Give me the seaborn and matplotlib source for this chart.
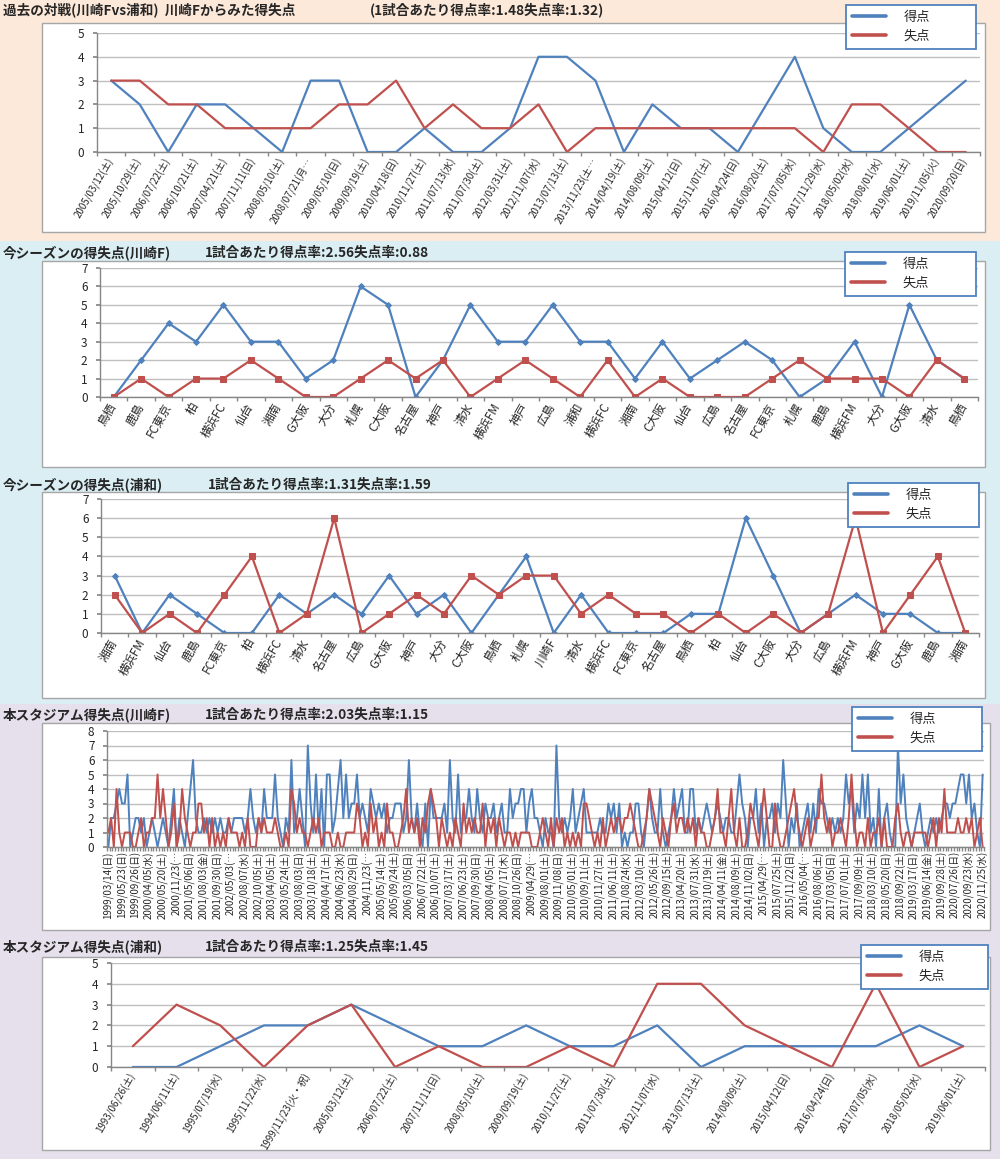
import numpy as np
import pandas as pd
import matplotlib
matplotlib.use("Agg")
import matplotlib.pyplot as plt
import seaborn as sns
from matplotlib.lines import Line2D
from matplotlib.patches import Rectangle

sns.set_theme(style="white")
plt.rcParams["font.family"] = ["Noto Sans CJK JP", "DejaVu Sans"]

BLUE = "#4F81BD"
RED = "#C0504D"
GRID = "#BFBFBF"
AXIS = "#868686"

# --- 過去の対戦 (川崎F vs 浦和)
h2h_dates = ["2005/03/12(土)", "2005/10/29(土)", "2006/07/22(土)", "2006/10/21(土)",
             "2007/04/21(土)", "2007/11/11(日)", "2008/05/10(土)", "2008/07/21(月…",
             "2009/05/10(日)", "2009/09/19(土)", "2010/04/18(日)", "2010/11/27(土)",
             "2011/07/13(水)", "2011/07/30(土)", "2012/03/31(土)", "2012/11/07(水)",
             "2013/07/13(土)", "2013/11/23(土…", "2014/04/19(土)", "2014/08/09(土)",
             "2015/04/12(日)", "2015/11/07(土)", "2016/04/24(日)", "2016/08/20(土)",
             "2017/07/05(水)", "2017/11/29(水)", "2018/05/02(水)", "2018/08/01(水)",
             "2019/06/01(土)", "2019/11/05(火)", "2020/09/20(日)"]
h2h_for = [3, 2, 0, 2, 2, 1, 0, 3, 3, 0, 0, 1, 0, 0, 1, 4, 4, 3, 0, 2, 1, 1, 0, 2, 4, 1, 0, 0, 1, 2, 3]
h2h_against = [3, 3, 2, 2, 1, 1, 1, 1, 2, 2, 3, 1, 2, 1, 1, 2, 0, 1, 1, 1, 1, 1, 1, 1, 1, 0, 2, 2, 1, 0, 0]

# --- 今シーズン (川崎F)
kaw_opponents = ["鳥栖", "鹿島", "FC東京", "柏", "横浜FC", "仙台", "湘南", "G大阪", "大分", "札幌",
                 "C大阪", "名古屋", "神戸", "清水", "横浜FM", "神戸", "広島", "浦和", "横浜FC", "湘南",
                 "C大阪", "仙台", "広島", "名古屋", "FC東京", "札幌", "鹿島", "横浜FM", "大分", "G大阪",
                 "清水", "鳥栖"]
kaw_for = [0, 2, 4, 3, 5, 3, 3, 1, 2, 6, 5, 0, 2, 5, 3, 3, 5, 3, 3, 1, 3, 1, 2, 3, 2, 0, 1, 3, 0, 5, 2, 1]
kaw_against = [0, 1, 0, 1, 1, 2, 1, 0, 0, 1, 2, 1, 2, 0, 1, 2, 1, 0, 2, 0, 1, 0, 0, 0, 1, 2, 1, 1, 1, 0, 2, 1]

# --- 今シーズン (浦和)
ura_opponents = ["湘南", "横浜FM", "仙台", "鹿島", "FC東京", "柏", "横浜FC", "清水", "名古屋", "広島",
                 "G大阪", "神戸", "大分", "C大阪", "鳥栖", "札幌", "川崎F", "清水", "横浜FC", "FC東京",
                 "名古屋", "鳥栖", "柏", "仙台", "C大阪", "大分", "広島", "横浜FM", "神戸", "G大阪",
                 "鹿島", "湘南"]
ura_for = [3, 0, 2, 1, 0, 0, 2, 1, 2, 1, 3, 1, 2, 0, 2, 4, 0, 2, 0, 0, 0, 1, 1, 6, 3, 0, 1, 2, 1, 1, 0, 0]
ura_against = [2, 0, 1, 0, 2, 4, 0, 1, 6, 0, 1, 2, 1, 3, 2, 3, 3, 1, 2, 1, 1, 0, 1, 0, 1, 0, 1, 6, 0, 2, 4, 0]

# --- 本スタジアム (川崎F) : every 5th match labelled
stadium_dates = ["1999/03/14(日)", "1999/05/23(日)", "1999/09/26(日)", "2000/04/05(水)", "2000/05/20(土)",
                 "2000/11/23(…", "2001/05/06(日)", "2001/08/03(金)", "2001/09/30(日)", "2002/05/03(…",
                 "2002/08/07(水)", "2002/10/05(土)", "2003/04/05(土)", "2003/05/24(土)", "2003/08/03(日)",
                 "2003/10/18(土)", "2004/04/17(土)", "2004/06/23(水)", "2004/08/29(日)", "2004/11/23(…",
                 "2005/05/14(土)", "2005/09/24(土)", "2006/03/05(日)", "2006/07/22(土)", "2006/10/07(土)",
                 "2007/03/17(土)", "2007/06/23(土)", "2007/09/30(日)", "2008/04/05(土)", "2008/07/17(木)",
                 "2008/10/26(日)", "2009/04/29(…", "2009/08/01(土)", "2009/11/08(日)", "2010/05/01(土)",
                 "2010/09/11(土)", "2010/11/27(土)", "2011/06/11(土)", "2011/08/24(水)", "2012/03/10(土)",
                 "2012/05/26(土)", "2012/09/15(土)", "2013/04/20(土)", "2013/07/31(水)", "2013/10/19(土)",
                 "2014/04/11(金)", "2014/08/09(土)", "2014/11/02(日)", "2015/04/29(…", "2015/07/25(土)",
                 "2015/11/22(日)", "2016/05/04(…", "2016/08/06(土)", "2017/03/05(日)", "2017/07/01(土)",
                 "2017/09/09(土)", "2018/03/10(土)", "2018/05/20(日)", "2018/09/22(土)", "2019/03/17(日)",
                 "2019/06/14(金)", "2019/09/28(土)", "2020/07/26(日)", "2020/09/23(水)", "2020/11/25(水)"]
stadium_for = [
    0, 2, 2, 3, 4, 3, 3, 5, 0, 1, 2, 2, 1, 2, 0, 1, 2, 1, 0, 1,
    2, 1, 0, 2, 4, 0, 2, 1, 0, 2, 4, 6, 2, 1, 1, 2, 1, 2, 1, 2,
    1, 2, 1, 1, 2, 1, 2, 2, 2, 2, 1, 2, 4,
    2, 1, 2, 1, 4, 2, 2, 2, 5, 2, 1, 0, 2, 1, 6, 1, 2, 4, 2, 0,
    7, 3, 1, 5, 1, 4, 0, 5, 5, 1, 2, 4, 6, 2, 5, 2, 3, 3, 5, 2,
    3, 2, 1, 4, 3, 2, 3, 2, 3, 1, 2, 2, 3,
    3, 3, 1, 2, 6, 2, 1, 3, 1, 0, 3, 0, 4, 2, 2, 2, 2, 3, 1, 6,
    2, 1, 5, 1, 2, 2, 4, 2, 1, 4, 2, 1, 3, 2, 2, 3, 1, 2, 3, 1,
    1, 4, 2, 3, 3, 4, 4, 1, 3, 4, 2, 2, 1,
    0, 2, 1, 1, 0, 7, 2, 1, 2, 1, 2, 4, 1, 2, 3, 4, 1, 1, 1, 1,
    1, 2, 1, 1, 3, 2, 3, 1, 3, 0, 1, 0, 1, 1, 3, 3, 1, 0, 2, 4,
    2, 1, 1, 4, 1, 0, 1, 2, 4, 2, 3, 4, 1,
    1, 4, 4, 1, 2, 1, 2, 3, 2, 1, 2, 3, 2, 1, 2, 2, 1, 1, 3, 5,
    3, 2, 0, 2, 2, 4, 1, 3, 0, 2, 2, 3, 1, 3, 2, 6, 3, 0, 2, 1,
    3, 0, 1, 2, 3, 1, 3, 1, 4, 3, 3, 2, 1,
    2, 1, 2, 1, 2, 5, 3, 4, 1, 3, 2, 5, 2, 5, 1, 2, 0, 4, 0, 2,
    3, 1, 0, 0, 7, 3, 5, 2, 1, 0, 1, 2, 3, 1, 0, 1, 2, 1, 2, 1,
    2, 3, 3, 2, 3, 3, 4, 5, 5, 3, 5, 2, 3, 1, 0, 5,
]
stadium_against = [
    1, 2, 0, 4, 1, 0, 1, 1, 1, 0, 0, 1, 2, 0, 1, 1, 2, 2, 5, 2,
    4, 2, 0, 1, 3, 0, 1, 4, 2, 1, 0, 1, 1, 3, 3, 1, 2, 0, 2, 0,
    1, 0, 1, 0, 2, 1, 1, 1, 0, 1, 0, 2, 0,
    0, 0, 2, 1, 2, 1, 1, 1, 2, 1, 0, 0, 1, 0, 4, 3, 1, 2, 1, 1,
    0, 1, 2, 1, 2, 0, 1, 1, 1, 0, 0, 1, 0, 0, 1, 1, 1, 1, 3, 2,
    0, 1, 0, 3, 1, 2, 0, 1, 0, 3, 1, 1, 0,
    0, 1, 2, 4, 1, 2, 1, 2, 0, 2, 1, 3, 4, 3, 2, 0, 2, 1, 0, 1,
    0, 2, 1, 0, 3, 1, 2, 1, 2, 1, 1, 3, 0, 2, 1, 2, 0, 2, 1, 0,
    1, 1, 0, 1, 0, 1, 1, 1, 1, 0, 0, 0, 1,
    2, 1, 0, 2, 0, 2, 1, 2, 0, 1, 0, 1, 0, 1, 0, 3, 3, 2, 1, 0,
    1, 0, 2, 0, 1, 2, 1, 2, 2, 1, 2, 2, 3, 2, 1, 0, 0, 1, 2, 4,
    3, 2, 1, 0, 2, 1, 0, 2, 3, 1, 2, 2, 1,
    2, 1, 2, 0, 2, 1, 1, 0, 0, 1, 2, 4, 1, 1, 0, 2, 4, 1, 0, 2,
    0, 0, 1, 3, 2, 1, 0, 2, 4, 2, 0, 0, 3, 1, 0, 0, 1, 2, 3, 4,
    2, 1, 0, 1, 2, 0, 1, 2, 2, 5, 2, 1, 2,
    0, 1, 1, 2, 1, 0, 2, 5, 2, 0, 1, 1, 0, 2, 0, 1, 1, 2, 0, 2,
    0, 0, 0, 2, 3, 1, 0, 1, 1, 0, 1, 1, 1, 1, 1, 0, 1, 2, 0, 2,
    1, 4, 1, 1, 1, 1, 2, 1, 1, 2, 1, 2, 0, 1, 2, 0,
]

# --- 本スタジアム (浦和)
ura_home_dates = ["1993/06/26(土)", "1994/06/11(土)", "1995/07/19(水)", "1995/11/22(水)",
                  "1999/11/23(火・祝)", "2005/03/12(土)", "2006/07/22(土)", "2007/11/11(日)",
                  "2008/05/10(土)", "2009/09/19(土)", "2010/11/27(土)", "2011/07/30(土)",
                  "2012/11/07(水)", "2013/07/13(土)", "2014/08/09(土)", "2015/04/12(日)",
                  "2016/04/24(日)", "2017/07/05(水)", "2018/05/02(水)", "2019/06/01(土)"]
ura_home_for = [0, 0, 1, 2, 2, 3, 2, 1, 1, 2, 1, 1, 2, 0, 1, 1, 1, 1, 2, 1]
ura_home_against = [1, 3, 2, 0, 2, 3, 0, 1, 0, 0, 1, 0, 4, 4, 2, 1, 0, 4, 0, 1]

W, H = 1000, 1159
fig = plt.figure(figsize=(W / 100, H / 100), dpi=100)


def fx(px):
    return px / W


def fy(py):
    return 1 - py / H


def rect(x0, y0, x1, y1, **kw):
    fig.add_artist(Rectangle((fx(x0), fy(y1)), (x1 - x0) / W, (y1 - y0) / H,
                             transform=fig.transFigure, **kw))


# background bands
rect(0, 0, W, 241, facecolor="#FDE9D9", edgecolor="none", zorder=-5)
rect(0, 241, W, 704, facecolor="#DAEEF3", edgecolor="none", zorder=-5)
rect(0, 704, W, H, facecolor="#E5E0EC", edgecolor="none", zorder=-5)


def panel(box, axpx, legpx, title, stats, stats_x, title_y, labels, gf, ga, ymax,
          step=1, rot=60, lsize=7, marks=False, lw=1.6):
    rect(*box, facecolor="white", edgecolor="#A6A6A6", lw=1, zorder=-4)
    fig.text(fx(3), fy(title_y), title, fontsize=9.8, fontweight="bold", va="center")
    fig.text(fx(stats_x), fy(title_y), stats, fontsize=9.8, fontweight="bold", va="center")

    l, t, r, b = axpx
    ax = fig.add_axes([fx(l), fy(b), (r - l) / W, (b - t) / H])
    n = len(gf)
    df = pd.DataFrame({"match": np.tile(np.arange(n), 2),
                       "goals": list(gf) + list(ga),
                       "kind": ["得点"] * n + ["失点"] * n})
    kw = dict(data=df, x="match", y="goals", hue="kind", hue_order=["得点", "失点"],
              palette={"得点": BLUE, "失点": RED}, ax=ax, legend=False, lw=lw, estimator=None)
    if marks:
        sns.lineplot(style="kind", markers={"得点": "D", "失点": "s"}, dashes=False, **kw)
        for line, ms in zip(ax.lines, [3, 5]):
            line.set_markersize(ms)
            line.set_markeredgecolor(line.get_color())
    else:
        sns.lineplot(**kw)

    ax.set_xlim(-0.5, n - 0.5)
    ax.set_ylim(0, ymax)
    ax.set_yticks(range(ymax + 1))
    ax.yaxis.grid(True, color=GRID, lw=1)
    ax.set_axisbelow(True)
    ax.set_xlabel("")
    ax.set_ylabel("")
    ax.set_xticks(np.arange(0, n, step))
    if rot == 90:
        ax.set_xticklabels(labels, rotation=90, ha="center", va="top", fontsize=lsize)
    else:
        ax.set_xticklabels(labels, rotation=rot, ha="right", va="center",
                           rotation_mode="anchor", fontsize=lsize)
    ax.set_xticks(np.arange(-0.5, n, 1), minor=True)
    ax.tick_params(axis="x", which="major", bottom=True, length=0, pad=5 if rot != 90 else 3)
    ax.tick_params(axis="x", which="minor", bottom=True, length=3, color=AXIS)
    ax.tick_params(axis="y", left=True, length=3, color=AXIS, labelsize=8.5, pad=6)
    for s in ["top", "right"]:
        ax.spines[s].set_visible(False)
    for s in ["left", "bottom"]:
        ax.spines[s].set_color(AXIS)
        ax.spines[s].set_linewidth(1)

    lx0, ly0, lx1, ly1 = legpx
    handles = [Line2D([], [], color=BLUE, lw=2.6), Line2D([], [], color=RED, lw=2.6)]
    leg = ax.legend(handles, ["得点", "失点"], loc="upper left",
                    bbox_to_anchor=(fx(lx0), fy(ly1), (lx1 - lx0) / W, (ly1 - ly0) / H),
                    bbox_transform=fig.transFigure, mode="expand", borderaxespad=0,
                    fancybox=False, edgecolor=BLUE, framealpha=1, fontsize=9.5,
                    handlelength=2.6, handletextpad=1.3, borderpad=0.45, labelspacing=0.45)
    leg.get_frame().set_linewidth(1.3)
    return ax


panel((42, 23, 985, 232), (97, 33, 980, 152), (846, 5, 976, 50),
      "過去の対戦(川崎Fvs浦和)  川崎Fからみた得失点", "(1試合あたり得点率:1.48失点率:1.32)", 370, 10,
      h2h_dates, h2h_for, h2h_against, 5, lsize=7)
panel((42, 261, 985, 467), (100, 268, 978, 397), (845, 252, 976, 298),
      "今シーズンの得失点(川崎F)", "1試合あたり得点率:2.56失点率:0.88", 205, 253,
      kaw_opponents, kaw_for, kaw_against, 7, lsize=8.5, marks=True)
panel((42, 492, 985, 698), (101, 499, 979, 633), (848, 483, 979, 528),
      "今シーズンの得失点(浦和)", "1試合あたり得点率:1.31失点率:1.59", 208, 485,
      ura_opponents, ura_for, ura_against, 7, lsize=8.5, marks=True)
panel((42, 723, 990, 930), (107, 731, 984, 847), (852, 707, 982, 753),
      "本スタジアム得失点(川崎F)", "1試合あたり得点率:2.03失点率:1.15", 205, 715,
      stadium_dates, stadium_for, stadium_against, 8, step=5, rot=90, lsize=7, lw=1.4)
panel((42, 957, 990, 1150), (111, 963, 985, 1067), (861, 945, 988, 990),
      "本スタジアム得失点(浦和)", "1試合あたり得点率:1.25失点率:1.45", 205, 947,
      ura_home_dates, ura_home_for, ura_home_against, 5, lsize=7)

fig.savefig("out.png", dpi=100)
